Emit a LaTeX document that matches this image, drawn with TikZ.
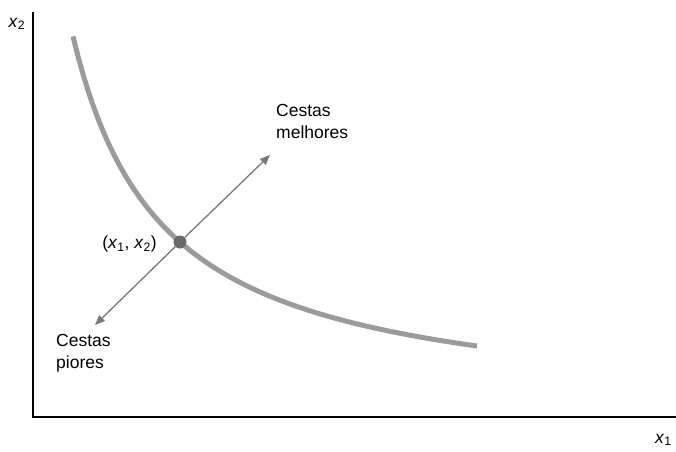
\documentclass[tikz,border=0pt]{standalone}
\usepackage{fontspec}
\setmainfont{Liberation Sans}
\usepackage{tikz}
\usetikzlibrary{arrows.meta, positioning}
\definecolor{curvegray}{RGB}{155,155,155}
\definecolor{dotgray}{RGB}{105,105,105}
\definecolor{arrowgray}{RGB}{120,120,120}
\tikzset{
  axis/.style={line width=2pt, color=black},
  indiff/.style={line width=5pt, color=curvegray},
  dirarrow/.style={-{Triangle[length=10pt, width=8pt]}, line width=1.3pt, color=arrowgray},
  bundle/.style={circle, fill=dotgray, inner sep=0pt, minimum size=13pt},
  lbl/.style={font=\fontsize{17.5}{22}\selectfont, align=left, inner sep=0pt}
}

\begin{document}
\begin{tikzpicture}[x=1pt, y=-1pt]
  \useasboundingbox (0,0) rectangle (676,451);

  % Axes
  \coordinate (origin) at (33,417);
  \coordinate (ytop) at (33,12);
  \coordinate (xend) at (676,417);
  \draw[axis] (ytop) -- (origin) -- (xend);
  \node[lbl] (ylab) at (17,24) {\textit{x}\textsubscript{2}};
  \node[lbl, anchor=east] (xlab) at (672,440) {\textit{x}\textsubscript{1}};

  % Indifference curve
  \draw[indiff] plot[domain=73:477, samples=80] (\x, {415 - 340.76/(\x+17)*100});

  % Chosen bundle and directions
  \node[bundle] (pt) at (180,242) {};
  \coordinate (better) at (270,155);
  \coordinate (worse) at (95,325);
  \draw[dirarrow] (pt) -- (better);
  \draw[dirarrow] (pt) -- (worse);

  % Labels
  \node[lbl, anchor=east] (ptlab) at (157,244) {(\textit{x}\textsubscript{1}, \textit{x}\textsubscript{2})};
  \node[lbl, anchor=north west] (betterlab) at (276,104) {Cestas\\melhores};
  \node[lbl, anchor=north west] (worselab) at (56,334) {Cestas\\piores};
\end{tikzpicture}
\end{document}
